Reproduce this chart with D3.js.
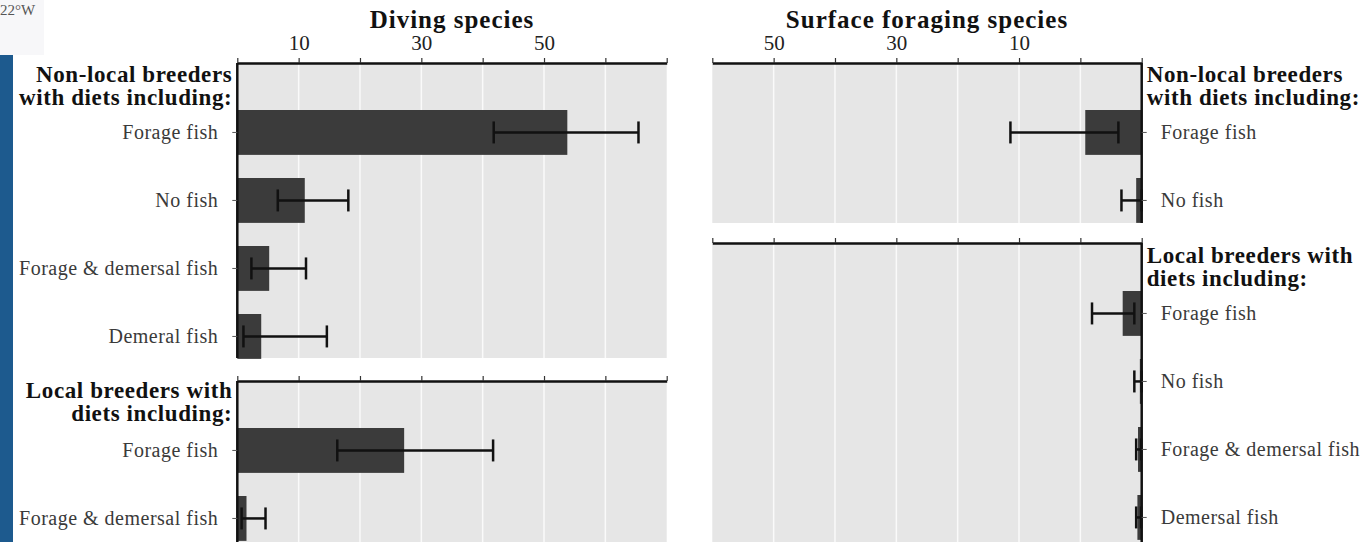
<!DOCTYPE html>
<html lang="en">
<head>
  <meta charset="UTF-8">
  <title>Diving vs surface foraging species</title>
  <script src="https://d3js.org/d3.v7.min.js"></script>
  <style>
    body { margin: 0; padding: 0; background: #fff; }
    svg { display: block; }
    text { font-family: "Liberation Serif", "Times New Roman", serif; }
    .title { font-weight: bold; font-size: 25px; letter-spacing: 1px; fill: #111; text-anchor: middle; }
    .head { font-weight: bold; font-size: 23px; letter-spacing: 0.6px; fill: #111; }
    .cat { font-size: 20px; letter-spacing: 0.5px; fill: #3a3a3a; }
    .tick text { font-size: 21px; fill: #222; }
  </style>
</head>
<body>
  <script>
    // Diving species
    const diveNonLocalCats = ["Forage fish", "No fish", "Forage & demersal fish", "Demeral fish"];
    const diveNonLocalMean = [53.8, 11.0, 5.2, 3.9];
    const diveNonLocalLow  = [41.8, 6.6, 2.3, 1.0];
    const diveNonLocalHigh = [65.4, 18.1, 11.2, 14.6];

    const diveLocalCats = ["Forage fish", "Forage & demersal fish"];
    const diveLocalMean = [27.2, 1.5];
    const diveLocalLow  = [16.3, 0.7];
    const diveLocalHigh = [41.7, 4.6];

    // Surface foraging species
    const surfNonLocalCats = ["Forage fish", "No fish"];
    const surfNonLocalMean = [9.2, 0.9];
    const surfNonLocalLow  = [3.8, 0.0];
    const surfNonLocalHigh = [21.4, 3.3];

    const surfLocalCats = ["Forage fish", "No fish", "Forage & demersal fish", "Demersal fish"];
    const surfLocalMean = [3.1, 0.3, 0.6, 0.7];
    const surfLocalLow  = [1.2, 0.0, 0.1, 0.1];
    const surfLocalHigh = [8.1, 1.2, 0.9, 0.9];

    // axis ticks (labels as printed in the figure)
    const tickValues = [0, 10, 20, 30, 40, 50, 60, 70];
    const diveTickAt = [10, 30, 50];
    const diveTickLabels = ["10", "30", "50"];
    const surfTickAt = [60, 40, 20];
    const surfTickLabels = ["50", "30", "10"];

    const serif = '"Liberation Serif", "Times New Roman", serif';
    const width = 1365, height = 542;
    const svg = d3.select("body").append("svg")
      .attr("width", width).attr("height", height);

    // bits of the neighbouring figure at the left edge
    svg.append("rect").attr("x", 0).attr("y", 0).attr("width", 44).attr("height", 55).attr("fill", "#f7f7f9");
    svg.append("text").attr("x", 0).attr("y", 15).attr("font-size", 15).attr("fill", "#555").text("22°W");
    svg.append("rect").attr("x", 0).attr("y", 55).attr("width", 13).attr("height", height - 55).attr("fill", "#1d5a8e");

    const xDive = d3.scaleLinear().domain([0, 70]).range([237.3, 666.7]);
    const xSurf = d3.scaleLinear().domain([0, 70]).range([1141.7, 712.3]);

    function panel(o) {
      const g = svg.append("g");
      const x = o.x;
      const [ra, rb] = x.range();
      const left = Math.min(ra, rb), right = Math.max(ra, rb);
      const zero = x(0);
      const y = d3.scaleBand().domain(o.cats)
        .range([o.bandTop, o.bandTop + (o.cats.length - 0.34) * 68])
        .paddingInner(0.34).paddingOuter(0);

      g.append("rect").attr("x", left).attr("y", o.top)
        .attr("width", right - left).attr("height", o.bottom - o.top).attr("fill", "#e6e6e6");

      g.selectAll(".grid").data(tickValues.filter(v => v > 0 && v < 70)).join("line")
        .attr("x1", d => x(d)).attr("x2", d => x(d))
        .attr("y1", o.top).attr("y2", o.bottom)
        .attr("stroke", "#fafafa").attr("stroke-width", 1.5);

      const data = o.cats.map((c, i) => ({ c, m: o.mean[i], lo: o.low[i], hi: o.high[i] }));

      g.selectAll(".bar").data(data).join("rect")
        .attr("x", d => Math.min(zero, x(d.m)))
        .attr("y", d => y(d.c))
        .attr("width", d => Math.abs(x(d.m) - zero))
        .attr("height", y.bandwidth())
        .attr("fill", "#3b3b3b");

      const eb = g.selectAll(".eb").data(data).join("g")
        .attr("transform", d => `translate(0,${y(d.c) + y.bandwidth() / 2})`)
        .attr("stroke", "#111").attr("stroke-width", 2.5);
      eb.append("line").attr("x1", d => x(d.lo)).attr("x2", d => x(d.hi));
      eb.append("line").attr("x1", d => x(d.lo)).attr("x2", d => x(d.lo)).attr("y1", -11).attr("y2", 11);
      eb.append("line").attr("x1", d => x(d.hi)).attr("x2", d => x(d.hi)).attr("y1", -11).attr("y2", 11);

      // top axis
      const labels = new Map((o.tickAt || []).map((v, i) => [v, o.tickLabels[i]]));
      const ax = g.append("g").attr("transform", `translate(0,${o.top})`)
        .call(d3.axisTop(x).tickValues(tickValues).tickSize(5).tickSizeOuter(0)
          .tickFormat(v => labels.get(v) || ""));
      ax.attr("font-family", serif);
      ax.select(".domain").attr("stroke", "#111").attr("stroke-width", 2.5);
      ax.selectAll(".tick line").attr("stroke", "#333").attr("stroke-width", 1.2);
      ax.selectAll(".tick text").attr("dy", "-0.25em");

      // category axis
      const side = o.side;
      g.append("line").attr("x1", zero).attr("x2", zero).attr("y1", o.top).attr("y2", o.bottom)
        .attr("stroke", "#111").attr("stroke-width", 2.5);
      const cax = g.append("g").attr("transform", `translate(${zero},0)`)
        .call((side === "left" ? d3.axisLeft(y) : d3.axisRight(y)).tickSize(5).tickPadding(14));
      cax.attr("font-family", serif).attr("font-size", null);
      cax.select(".domain").remove();
      cax.selectAll(".tick line").attr("stroke", "#555");
      cax.selectAll(".tick text").attr("class", "cat")
        .style("font-family", serif).style("font-size", "20px").style("fill", "#3a3a3a");

      // group heading
      const hx = side === "left" ? zero - 5 : zero + 5;
      const ht = g.append("text").attr("class", "head")
        .attr("text-anchor", side === "left" ? "end" : "start");
      o.header.forEach((line, i) => {
        ht.append("tspan").attr("x", hx).attr("y", o.headY + i * 23).text(line);
      });
    }

    panel({ x: xDive, side: "left", top: 63, bottom: 358, bandTop: 110, headY: 82,
      cats: diveNonLocalCats, mean: diveNonLocalMean, low: diveNonLocalLow, high: diveNonLocalHigh,
      header: ["Non-local breeders", "with diets including:"], tickAt: diveTickAt, tickLabels: diveTickLabels });
    panel({ x: xDive, side: "left", top: 381, bottom: 542, bandTop: 428, headY: 398,
      cats: diveLocalCats, mean: diveLocalMean, low: diveLocalLow, high: diveLocalHigh,
      header: ["Local breeders with", "diets including:"] });
    panel({ x: xSurf, side: "right", top: 63, bottom: 223, bandTop: 110, headY: 82,
      cats: surfNonLocalCats, mean: surfNonLocalMean, low: surfNonLocalLow, high: surfNonLocalHigh,
      header: ["Non-local breeders", "with diets including:"], tickAt: surfTickAt, tickLabels: surfTickLabels });
    panel({ x: xSurf, side: "right", top: 243, bottom: 542, bandTop: 291, headY: 263,
      cats: surfLocalCats, mean: surfLocalMean, low: surfLocalLow, high: surfLocalHigh,
      header: ["Local breeders with", "diets including:"] });

    svg.append("text").attr("class", "title").attr("x", (xDive(0) + xDive(70)) / 2).attr("y", 28).text("Diving species");
    svg.append("text").attr("class", "title").attr("x", (xSurf(0) + xSurf(70)) / 2).attr("y", 28).text("Surface foraging species");
  </script>
</body>
</html>
